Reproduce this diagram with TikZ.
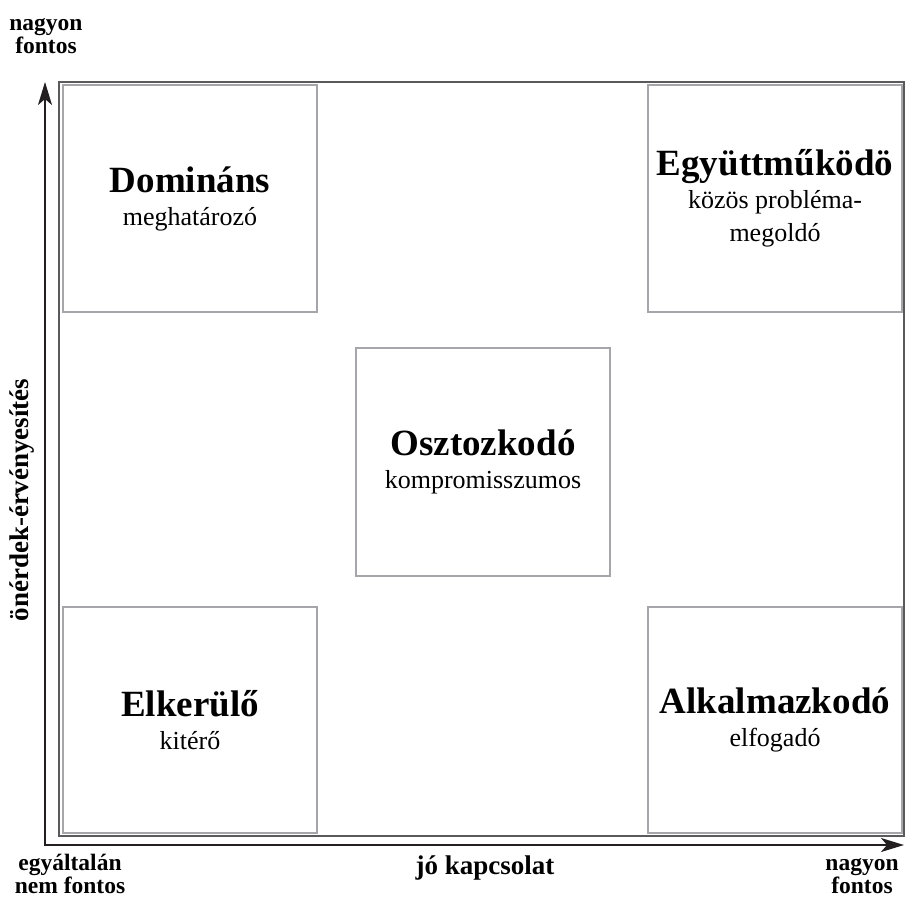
\documentclass[tikz,border=0pt]{standalone}
\usepackage{fontspec}
\setmainfont{Liberation Serif}
\usetikzlibrary{arrows.meta}

\definecolor{boxgray}{RGB}{165,165,170}
\definecolor{framegray}{RGB}{90,90,92}
\definecolor{axisblack}{RGB}{35,31,32}

\tikzset{
    quad/.style={draw=boxgray, line width=2pt, minimum width=254pt, minimum height=227pt,
        inner sep=0pt, align=center, font=\fontsize{26}{33}\selectfont},
    axislabel/.style={font=\fontsize{23.5}{22.5}\selectfont\bfseries, align=center, inner sep=0pt},
    axisname/.style={font=\fontsize{27}{30}\selectfont\bfseries, inner sep=0pt},
    axis/.style={draw=axisblack, line width=2pt, {Stealth[length=23pt,width=14pt,inset=6pt]}-{Stealth[length=23pt,width=14pt,inset=6pt]}}
}
\newcommand{\qtitle}[1]{{\fontsize{37}{40}\selectfont\bfseries #1}}

\begin{document}
\begin{tikzpicture}[x=1pt,y=-1pt]
    \useasboundingbox (0,0) rectangle (907,900);

    % outer frame
    \draw[framegray, line width=1.2pt] (59,82) rectangle (904,836);

    % the five styles
    \node[quad] (dom) at (190,198.5) {\qtitle{Domináns}\\meghatározó};
    \node[quad] (coop) at (775,198.5) {\qtitle{Együttműködö}\\közös probléma-\\megoldó};
    \node[quad, minimum height=228pt] (share) at (483,462) {\qtitle{Osztozkodó}\\kompromisszumos};
    \node[quad, minimum height=226pt] (avoid) at (190,720) {\qtitle{Elkerülő}\\kitérő};
    \node[quad, minimum height=226pt] (adapt) at (775,720) {\qtitle{Alkalmazkodó}\\elfogadó};

    % axes
    \coordinate (ytip) at (45,82);
    \coordinate (xtip) at (904,845);
    \draw[axis] (ytip) |- (xtip);

    \node[axislabel] (ytop) at (46,36) {nagyon\\fontos};
    \node[axislabel] (xlow) at (70,874) {egyáltalán\\nem fontos};
    \node[axislabel] (xtop) at (862,876) {nagyon\\fontos};
    \node[axisname, anchor=base] (xname) at (485,874) {jó kapcsolat};
    \node[axisname, rotate=90] (yname) at (22,500) {önérdek-érvényesítés};
\end{tikzpicture}
\end{document}
